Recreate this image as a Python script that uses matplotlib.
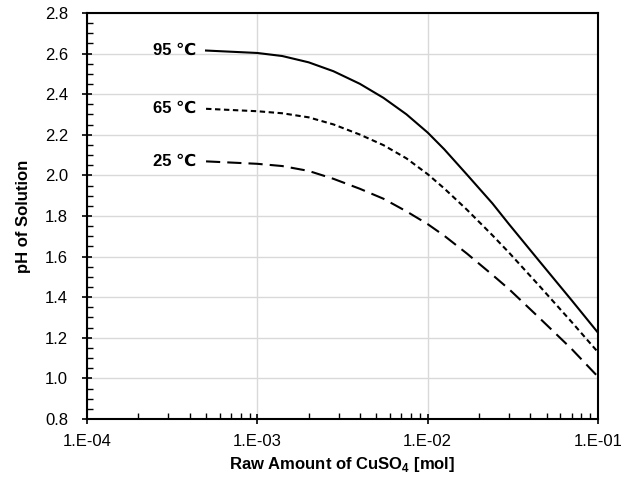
import numpy as np
import matplotlib
matplotlib.use("Agg")
import matplotlib.pyplot as plt
from matplotlib.ticker import FixedLocator, LogLocator, MultipleLocator, FuncFormatter, NullFormatter

plt.rcParams['font.family'] = ['Liberation Sans', 'DejaVu Sans']

# CuSO4 amount [mol] and pH at each temperature
cuso4 = [5e-4, 1e-3, 1.4e-3, 2e-3, 2.8e-3, 4e-3, 5.5e-3, 7.5e-3, 1e-2, 1.25e-2, 1.7e-2, 2.4e-2, 3e-2, 4.5e-2, 7e-2, 1e-1]
ph_95 = [2.615, 2.603, 2.588, 2.557, 2.513, 2.451, 2.382, 2.301, 2.211, 2.129, 2.004, 1.862, 1.760, 1.580, 1.385, 1.225]
ph_65 = [2.328, 2.316, 2.306, 2.286, 2.251, 2.201, 2.149, 2.084, 2.006, 1.936, 1.831, 1.705, 1.620, 1.458, 1.278, 1.129]
ph_25 = [2.069, 2.057, 2.046, 2.022, 1.983, 1.934, 1.885, 1.823, 1.760, 1.703, 1.615, 1.510, 1.440, 1.300, 1.145, 1.008]
labels = ['95 \u2103', '65 \u2103', '25 \u2103']

fig = plt.figure(figsize=(6.33, 4.79), dpi=100)
ax = fig.add_axes([0.1374, 0.1253, 0.8073, 0.8476])

ax.plot(cuso4, ph_95, color='black', lw=1.5, ls='-')
ax.plot(cuso4, ph_65, color='black', lw=1.5, ls=(0, (2.6, 1.7)))
ax.plot(cuso4, ph_25, color='black', lw=1.5, ls=(0, (6.8, 3.4)))

for lab, ys in zip(labels, [ph_95, ph_65, ph_25]):
    ax.text(4.4e-4, ys[0], lab, ha='right', va='center', fontsize=12, fontweight='bold')

ax.set_xscale('log')
ax.set_xlim(1e-4, 1e-1)
ax.set_ylim(0.8, 2.8)

ax.xaxis.set_major_locator(FixedLocator([1e-4, 1e-3, 1e-2, 1e-1]))
ax.xaxis.set_major_formatter(FuncFormatter(lambda v, p: '1.E%03d' % int(round(np.log10(v)))))
ax.xaxis.set_minor_locator(LogLocator(base=10, subs=np.arange(2, 10)))
ax.xaxis.set_minor_formatter(NullFormatter())
ax.yaxis.set_major_locator(MultipleLocator(0.2))
ax.yaxis.set_minor_locator(MultipleLocator(0.05))
ax.yaxis.set_major_formatter(FuncFormatter(lambda v, p: '%.1f' % v))

ax.tick_params(which='major', direction='inout', length=7, width=1.2, labelsize=12, colors='black')
ax.tick_params(which='minor', direction='in', length=4, width=1)
ax.tick_params(axis='x', which='major', pad=7)
ax.tick_params(axis='y', which='major', pad=10)

ax.grid(True, which='major', color='#d9d9d9', lw=1)
ax.set_axisbelow(True)
for s in ax.spines.values():
    s.set_linewidth(1.5)
    s.set_color('black')

ax.set_xlabel('Raw Amount of CuSO$_\\mathregular{4}$ [mol]', fontsize=12, fontweight='bold', va='center')
ax.set_ylabel('pH of Solution', fontsize=12, fontweight='bold', va='center')
ax.xaxis.set_label_coords(0.5, -0.111)
ax.yaxis.set_label_coords(-0.125, 0.5)

fig.savefig('out.png', dpi=100)
